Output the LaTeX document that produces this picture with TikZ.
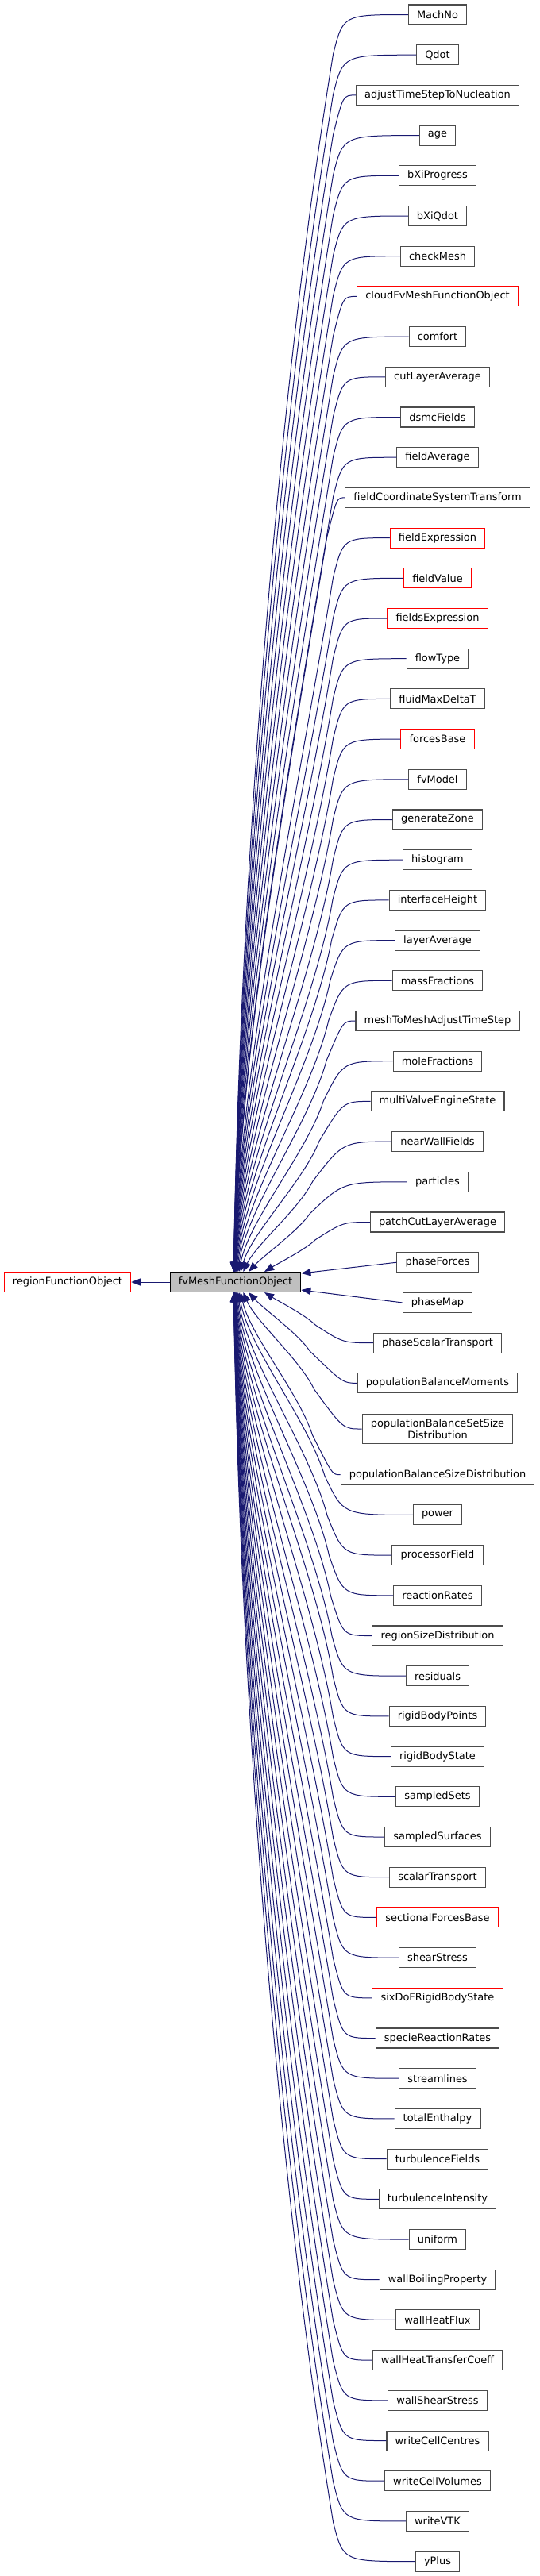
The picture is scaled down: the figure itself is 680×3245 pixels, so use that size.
\documentclass[tikz,border=0pt]{standalone}
\usepackage{fontspec}
\setmainfont{DejaVu Sans}
\usepackage{tikz}
\usepackage{xcolor}
\usetikzlibrary{arrows.meta}
\definecolor{edgeblue}{HTML}{191970}
\newdimen\inhx
\newdimen\inhy
% curved inheritance edge: child, rank from base, 1 = above / -1 = below
\newcommand{\inhedge}[3]{%
  \pgfextractx{\inhx}{\pgfpointanchor{#1}{west}}%
  \pgfextracty{\inhy}{\pgfpointanchor{#1}{west}}%
  \pgfmathsetmacro\inhxw{\inhx/0.75}%
  \pgfmathsetmacro\inhyi{-\inhy/0.75}%
  \pgfmathsetmacro\inhxt{293+40/(#2)}%
  \pgfmathsetmacro\inhyt{(#3)>0 ? 1602.5 : 1627.5}%
  \pgfmathsetmacro\inhd{abs(\inhyt-\inhyi)}%
  \pgfmathsetmacro\inhxk{min(432,\inhxw-10)}%
  \pgfmathsetmacro\inhh{min(50,0.35*\inhd)}%
  \pgfmathsetmacro\inhs{max(0.25,(\inhxk-\inhxt)/\inhd)}%
  \pgfmathsetmacro\inhxq{\inhxk-\inhs*\inhh}%
  \pgfmathsetmacro\inhyq{\inhyi+(#3)*\inhh}%
  \pgfmathsetmacro\inhl{0.3*(\inhd-\inhh)}%
  \pgfmathsetmacro\inhsb{\inhs*min(1,100/\inhd)}%
  \pgfmathsetmacro\inhsh{(\inhxt-296.5)*0.75}%
  \ifnum#3>0 \def\inhanc{north}\else\def\inhanc{south}\fi
  \draw[inh] (#1.west) .. controls (\inhxk,\inhyi) .. (\inhxq,\inhyq)
    .. controls ({\inhxq-0.65*\inhs*\inhl},{\inhyq+(#3)*\inhl})
    and ({\inhxt+\inhsb*\inhl},{\inhyt-(#3)*\inhl})
    .. ([xshift=\inhsh pt]fvMeshFunctionObject.\inhanc);
}

\begin{document}
\begin{tikzpicture}[
  x=0.75pt, y=-0.75pt,
  cls/.style={rectangle, draw=black!70, fill=white, line width=0.8pt,
              minimum height=18.75pt, inner xsep=8pt, inner ysep=3.9pt,
              align=center, font=\fontsize{9.7}{11.75}\selectfont},
  trunc/.style={cls, draw=red},
  base/.style={cls, draw=black, fill=black!25},
  inh/.style={edgeblue, line width=0.75pt, -{Triangle[length=9pt, width=7pt]}},
]
\useasboundingbox (0,0) rectangle (680,3245);

% Base classes
\node[base] (fvMeshFunctionObject) at (296.5,1615) {fvMeshFunctionObject};
\node[trunc] (regionFunctionObject) at (85,1615) {regionFunctionObject};
\draw[inh] (fvMeshFunctionObject) -- (regionFunctionObject);

% Derived classes above the base
\foreach \nm/\st [count=\i] in {MachNo/cls, Qdot/cls, adjustTimeStepToNucleation/cls,
    age/cls, bXiProgress/cls, bXiQdot/cls, checkMesh/cls,
    cloudFvMeshFunctionObject/trunc, comfort/cls, cutLayerAverage/cls,
    dsmcFields/cls, fieldAverage/cls, fieldCoordinateSystemTransform/cls,
    fieldExpression/trunc, fieldValue/trunc, fieldsExpression/trunc,
    flowType/cls, fluidMaxDeltaT/cls, forcesBase/trunc, fvModel/cls,
    generateZone/cls, histogram/cls, interfaceHeight/cls, layerAverage/cls,
    massFractions/cls, meshToMeshAdjustTimeStep/cls, moleFractions/cls,
    multiValveEngineState/cls, nearWallFields/cls, particles/cls,
    patchCutLayerAverage/cls} {
  \node[\st] (\nm) at (551,{18.5+(\i-1)*50.7}) {\nm};
  \inhedge{\nm}{32-\i}{1}
}

% Derived classes level with the base
\node[cls] (phaseForces) at (551,1590.2) {phaseForces};
\node[cls] (phaseMap) at (551,1640.9) {phaseMap};
\draw[inh] (phaseForces.west) -- ([yshift=8.25pt]fvMeshFunctionObject.east);
\draw[inh] (phaseMap.west) -- ([yshift=-7.5pt]fvMeshFunctionObject.east);

% Derived classes below the base
\node[cls] (phaseScalarTransport) at (551,1691.6) {phaseScalarTransport};
\inhedge{phaseScalarTransport}{1}{-1}
\node[cls] (populationBalanceMoments) at (551,1742.3) {populationBalanceMoments};
\inhedge{populationBalanceMoments}{2}{-1}
\node[cls] (populationBalanceSetSizeDistribution) at (551,1800)
  {populationBalanceSetSize\\Distribution};
\inhedge{populationBalanceSetSizeDistribution}{3}{-1}

\foreach \nm/\st [count=\i] in {populationBalanceSizeDistribution/cls, power/cls,
    processorField/cls, reactionRates/cls, regionSizeDistribution/cls,
    residuals/cls, rigidBodyPoints/cls, rigidBodyState/cls, sampledSets/cls,
    sampledSurfaces/cls, scalarTransport/cls, sectionalForcesBase/trunc,
    shearStress/cls, sixDoFRigidBodyState/trunc, specieReactionRates/cls,
    streamlines/cls, totalEnthalpy/cls, turbulenceFields/cls,
    turbulenceIntensity/cls, uniform/cls, wallBoilingProperty/cls,
    wallHeatFlux/cls, wallHeatTransferCoeff/cls, wallShearStress/cls,
    writeCellCentres/cls, writeCellVolumes/cls, writeVTK/cls, yPlus/cls} {
  \node[\st] (\nm) at (551,{1857.7+(\i-1)*50.7}) {\nm};
  \inhedge{\nm}{\i+3}{-1}
}

\end{tikzpicture}
\end{document}
